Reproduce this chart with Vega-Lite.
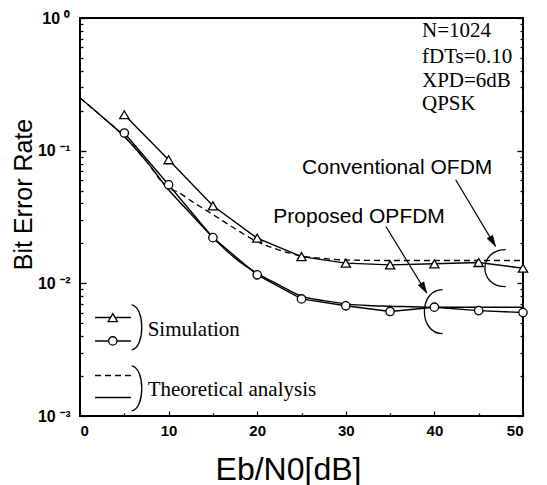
{
  "$schema": "https://vega.github.io/schema/vega-lite/v6.json",
  "width": 443,
  "height": 398,
  "autosize": {"type": "none"},
  "padding": {"left": 80, "top": 18, "right": 24, "bottom": 69},
  "background": "white",
  "config": {
    "view": {"stroke": "black", "strokeWidth": 2},
    "axis": {"grid": false, "domain": false, "tickColor": "black", "tickWidth": 1.3, "labelColor": "black", "titleColor": "black"}
  },
  "datasets": {
    "theory": [
      {"curve": "prop", "x": 0, "y": 0.25}, {"curve": "prop", "x": 2.5, "y": 0.18}, {"curve": "prop", "x": 5, "y": 0.128},
      {"curve": "prop", "x": 7.5, "y": 0.083}, {"curve": "prop", "x": 10, "y": 0.0507}, {"curve": "prop", "x": 12.5, "y": 0.0335},
      {"curve": "prop", "x": 15, "y": 0.0222}, {"curve": "prop", "x": 17.5, "y": 0.0155}, {"curve": "prop", "x": 20, "y": 0.0119},
      {"curve": "prop", "x": 22.5, "y": 0.0097}, {"curve": "prop", "x": 25, "y": 0.008}, {"curve": "prop", "x": 27.5, "y": 0.0074},
      {"curve": "prop", "x": 30, "y": 0.007}, {"curve": "prop", "x": 32.5, "y": 0.0068}, {"curve": "prop", "x": 35, "y": 0.00672},
      {"curve": "prop", "x": 40, "y": 0.0066}, {"curve": "prop", "x": 45, "y": 0.0066}, {"curve": "prop", "x": 50, "y": 0.0066},
      {"curve": "conv", "x": 0, "y": 0.25}, {"curve": "conv", "x": 2.5, "y": 0.18}, {"curve": "conv", "x": 5, "y": 0.128},
      {"curve": "conv", "x": 7.5, "y": 0.083}, {"curve": "conv", "x": 10, "y": 0.052}, {"curve": "conv", "x": 11, "y": 0.049},
      {"curve": "conv", "x": 12.5, "y": 0.042}, {"curve": "conv", "x": 15, "y": 0.033}, {"curve": "conv", "x": 17.5, "y": 0.0258},
      {"curve": "conv", "x": 20, "y": 0.0206}, {"curve": "conv", "x": 22.5, "y": 0.0178}, {"curve": "conv", "x": 25, "y": 0.0161},
      {"curve": "conv", "x": 27.5, "y": 0.0154}, {"curve": "conv", "x": 30, "y": 0.015}, {"curve": "conv", "x": 35, "y": 0.01486},
      {"curve": "conv", "x": 40, "y": 0.01486}, {"curve": "conv", "x": 45, "y": 0.01486}, {"curve": "conv", "x": 50, "y": 0.01486}
    ],
    "sim": [
      {"curve": "conv", "x": 5, "y": 0.1866}, {"curve": "conv", "x": 10, "y": 0.0854}, {"curve": "conv", "x": 15, "y": 0.0384},
      {"curve": "conv", "x": 20, "y": 0.0219}, {"curve": "conv", "x": 25, "y": 0.0159}, {"curve": "conv", "x": 30, "y": 0.0142},
      {"curve": "conv", "x": 35, "y": 0.01378}, {"curve": "conv", "x": 40, "y": 0.01403}, {"curve": "conv", "x": 45, "y": 0.01435},
      {"curve": "conv", "x": 50, "y": 0.013},
      {"curve": "prop", "x": 5, "y": 0.1358}, {"curve": "prop", "x": 10, "y": 0.0553}, {"curve": "prop", "x": 15, "y": 0.0221},
      {"curve": "prop", "x": 20, "y": 0.01159}, {"curve": "prop", "x": 25, "y": 0.00763}, {"curve": "prop", "x": 30, "y": 0.00677},
      {"curve": "prop", "x": 35, "y": 0.00613}, {"curve": "prop", "x": 40, "y": 0.00661}, {"curve": "prop", "x": 45, "y": 0.00623},
      {"curve": "prop", "x": 50, "y": 0.00602}
    ],
    "legend": [
      {"item": "tri", "x": 1.7, "x2": 5.75, "xm": 3.7, "y": 0.00552},
      {"item": "circ", "x": 1.7, "x2": 5.75, "xm": 3.7, "y": 0.00368},
      {"item": "dash", "x": 1.7, "x2": 5.75, "xm": 3.7, "y": 0.00202},
      {"item": "solid", "x": 1.7, "x2": 5.75, "xm": 3.7, "y": 0.001377}
    ],
    "brackets": [
      {"x": 6.34, "y": 0.00466},
      {"x": 6.34, "y": 0.001615}
    ],
    "arcs": [
      {"curve": "conv", "x": 46.8, "y": 0.013},
      {"curve": "prop", "x": 39.8, "y": 0.00612}
    ],
    "arrows": [
      {"curve": "conv", "x": 42.4, "y": 0.0603, "x2": 46.9, "y2": 0.019},
      {"curve": "prop", "x": 34.54, "y": 0.0267, "x2": 39.13, "y2": 0.00846}
    ],
    "serif": [
      {"label": "N=1024", "x": 38.6, "y": 0.714},
      {"label": "fDTs=0.10", "x": 38.6, "y": 0.458},
      {"label": "XPD=6dB", "x": 38.6, "y": 0.2997},
      {"label": "QPSK", "x": 38.6, "y": 0.201},
      {"label": "Simulation", "x": 7.64, "y": 0.00402},
      {"label": "Theoretical analysis", "x": 7.64, "y": 0.001422}
    ],
    "sans": [
      {"label": "Conventional OFDM", "x": 35.8, "y": 0.0666},
      {"label": "Proposed OPFDM", "x": 31.5, "y": 0.0284}
    ]
  },
  "resolve": {"axis": {"y": "independent"}},
  "layer": [
    {
      "data": {"name": "theory"},
      "transform": [{"filter": "datum.curve == 'prop'"}],
      "mark": {"type": "line", "color": "black", "strokeWidth": 1.4, "interpolate": "monotone"},
      "encoding": {
        "x": {"field": "x", "type": "quantitative", "scale": {"domain": [0, 50], "nice": false, "zero": false},
          "axis": {"values": [0, 5, 10, 15, 20, 25, 30, 35, 40, 45, 50],
            "labelExpr": "datum.value % 10 == 0 ? datum.label : ''",
            "tickSize": {"condition": {"test": "datum.value % 10 == 0", "value": -5}, "value": -3},
            "labelPadding": 12, "labelFont": "Liberation Sans", "labelFontWeight": "bold", "labelFontSize": 15,
            "labelOverlap": false,
            "title": "Eb/N0[dB]", "titleFont": "Liberation Sans", "titleFontWeight": "normal", "titleFontSize": 32,
            "titleX": 208, "titleY": 63, "titleAlign": "center", "titleBaseline": "alphabetic"}},
        "y": {"field": "y", "type": "quantitative", "scale": {"type": "log", "domain": [0.001, 1], "nice": false},
          "axis": {"orient": "left",
            "values": [0.001, 0.002, 0.003, 0.004, 0.005, 0.006, 0.007, 0.008, 0.009, 0.01, 0.02, 0.03, 0.04, 0.05, 0.06, 0.07, 0.08, 0.09, 0.1, 0.2, 0.3, 0.4, 0.5, 0.6, 0.7, 0.8, 0.9, 1],
            "labelExpr": "datum.value == 1 ? '10 ⁰' : datum.value == 0.1 ? '10 ⁻¹' : datum.value == 0.01 ? '10 ⁻²' : datum.value == 0.001 ? '10 ⁻³' : ''",
            "tickSize": {"condition": {"test": "indexof([1, 0.1, 0.01, 0.001], datum.value) >= 0", "value": -6}, "value": -3},
            "labelPadding": 16, "labelFont": "Liberation Sans", "labelFontWeight": "bold", "labelFontSize": 16,
            "labelOverlap": false, "labelBaseline": "middle",
            "title": "Bit Error Rate", "titleFont": "Liberation Sans", "titleFontWeight": "normal", "titleFontSize": 25,
            "titleX": -57, "titleY": 176, "titleAngle": 270, "titleAlign": "center", "titleBaseline": "middle"}}
      }
    },
    {
      "data": {"name": "theory"},
      "transform": [{"filter": "datum.curve == 'conv'"}],
      "mark": {"type": "line", "color": "black", "strokeWidth": 1.3, "strokeDash": [6, 4], "interpolate": "monotone"},
      "encoding": {
        "x": {"field": "x", "type": "quantitative"},
        "y": {"field": "y", "type": "quantitative", "scale": {"type": "log", "domain": [0.001, 1], "nice": false},
          "axis": {"orient": "right",
            "values": [0.001, 0.002, 0.003, 0.004, 0.005, 0.006, 0.007, 0.008, 0.009, 0.01, 0.02, 0.03, 0.04, 0.05, 0.06, 0.07, 0.08, 0.09, 0.1, 0.2, 0.3, 0.4, 0.5, 0.6, 0.7, 0.8, 0.9, 1],
            "labels": false, "title": null,
            "tickSize": {"condition": {"test": "indexof([1, 0.1, 0.01, 0.001], datum.value) >= 0", "value": -6}, "value": -3}}}
      }
    },
    {
      "data": {"name": "sim"},
      "mark": {"type": "line", "color": "black", "strokeWidth": 1.4},
      "encoding": {
        "x": {"field": "x", "type": "quantitative"},
        "y": {"field": "y", "type": "quantitative", "scale": {"type": "log", "domain": [0.001, 1], "nice": false}, "axis": null},
        "detail": {"field": "curve"}
      }
    },
    {
      "data": {"name": "sim"},
      "transform": [{"filter": "datum.curve == 'conv'"}],
      "mark": {"type": "point", "shape": "triangle-up", "size": 85, "filled": true, "fill": "white", "stroke": "black", "strokeWidth": 1.3, "opacity": 1},
      "encoding": {
        "x": {"field": "x", "type": "quantitative"},
        "y": {"field": "y", "type": "quantitative", "scale": {"type": "log", "domain": [0.001, 1], "nice": false}, "axis": null}
      }
    },
    {
      "data": {"name": "sim"},
      "transform": [{"filter": "datum.curve == 'prop'"}],
      "mark": {"type": "point", "shape": "circle", "size": 70, "filled": true, "fill": "white", "stroke": "black", "strokeWidth": 1.3, "opacity": 1},
      "encoding": {
        "x": {"field": "x", "type": "quantitative"},
        "y": {"field": "y", "type": "quantitative", "scale": {"type": "log", "domain": [0.001, 1], "nice": false}, "axis": null}
      }
    },
    {
      "data": {"name": "legend"},
      "transform": [{"filter": "datum.item != 'dash'"}],
      "mark": {"type": "rule", "color": "black", "strokeWidth": 1.4},
      "encoding": {
        "x": {"field": "x", "type": "quantitative"},
        "x2": {"field": "x2"},
        "y": {"field": "y", "type": "quantitative", "scale": {"type": "log", "domain": [0.001, 1], "nice": false}, "axis": null}
      }
    },
    {
      "data": {"name": "legend"},
      "transform": [{"filter": "datum.item == 'dash'"}],
      "mark": {"type": "rule", "color": "black", "strokeWidth": 1.3, "strokeDash": [6, 4]},
      "encoding": {
        "x": {"field": "x", "type": "quantitative"},
        "x2": {"field": "x2"},
        "y": {"field": "y", "type": "quantitative", "scale": {"type": "log", "domain": [0.001, 1], "nice": false}, "axis": null}
      }
    },
    {
      "data": {"name": "legend"},
      "transform": [{"filter": "datum.item == 'tri'"}],
      "mark": {"type": "point", "shape": "triangle-up", "size": 85, "filled": true, "fill": "white", "stroke": "black", "strokeWidth": 1.3, "opacity": 1},
      "encoding": {
        "x": {"field": "xm", "type": "quantitative"},
        "y": {"field": "y", "type": "quantitative", "scale": {"type": "log", "domain": [0.001, 1], "nice": false}, "axis": null}
      }
    },
    {
      "data": {"name": "legend"},
      "transform": [{"filter": "datum.item == 'circ'"}],
      "mark": {"type": "point", "shape": "circle", "size": 70, "filled": true, "fill": "white", "stroke": "black", "strokeWidth": 1.3, "opacity": 1},
      "encoding": {
        "x": {"field": "xm", "type": "quantitative"},
        "y": {"field": "y", "type": "quantitative", "scale": {"type": "log", "domain": [0.001, 1], "nice": false}, "axis": null}
      }
    },
    {
      "data": {"name": "brackets"},
      "mark": {"type": "point", "shape": "M -0.2 -1 C 0.4 -0.9 0.4 0.9 -0.2 1", "size": 2025, "filled": false, "stroke": "black", "strokeWidth": 1.3, "opacity": 1},
      "encoding": {
        "x": {"field": "x", "type": "quantitative"},
        "y": {"field": "y", "type": "quantitative", "scale": {"type": "log", "domain": [0.001, 1], "nice": false}, "axis": null}
      }
    },
    {
      "data": {"name": "arcs"},
      "transform": [{"filter": "datum.curve == 'conv'"}],
      "mark": {"type": "point", "shape": "M 0.6 -1 C -0.9 -1 -0.9 1 0.6 1", "size": 1369, "filled": false, "stroke": "black", "strokeWidth": 1.3, "opacity": 1},
      "encoding": {
        "x": {"field": "x", "type": "quantitative"},
        "y": {"field": "y", "type": "quantitative", "scale": {"type": "log", "domain": [0.001, 1], "nice": false}, "axis": null}
      }
    },
    {
      "data": {"name": "arcs"},
      "transform": [{"filter": "datum.curve == 'prop'"}],
      "mark": {"type": "point", "shape": "M 0.45 -1 C -0.65 -1 -0.65 1 0.45 1", "size": 1936, "filled": false, "stroke": "black", "strokeWidth": 1.3, "opacity": 1},
      "encoding": {
        "x": {"field": "x", "type": "quantitative"},
        "y": {"field": "y", "type": "quantitative", "scale": {"type": "log", "domain": [0.001, 1], "nice": false}, "axis": null}
      }
    },
    {
      "data": {"name": "arrows"},
      "mark": {"type": "rule", "color": "black", "strokeWidth": 1.2},
      "encoding": {
        "x": {"field": "x", "type": "quantitative"},
        "x2": {"field": "x2"},
        "y": {"field": "y", "type": "quantitative", "scale": {"type": "log", "domain": [0.001, 1], "nice": false}, "axis": null},
        "y2": {"field": "y2"}
      }
    },
    {
      "data": {"name": "arrows"},
      "mark": {"type": "point", "shape": "M 0 0 L -0.3 1 L 0.3 1 Z", "size": 484, "angle": 149, "filled": true, "fill": "black", "stroke": "black", "strokeWidth": 0.5, "opacity": 1},
      "encoding": {
        "x": {"field": "x2", "type": "quantitative"},
        "y": {"field": "y2", "type": "quantitative", "scale": {"type": "log", "domain": [0.001, 1], "nice": false}, "axis": null}
      }
    },
    {
      "data": {"name": "serif"},
      "mark": {"type": "text", "font": "Liberation Serif", "fontSize": 21, "align": "left", "baseline": "alphabetic", "color": "black"},
      "encoding": {
        "x": {"field": "x", "type": "quantitative"},
        "y": {"field": "y", "type": "quantitative", "scale": {"type": "log", "domain": [0.001, 1], "nice": false}, "axis": null},
        "text": {"field": "label"}
      }
    },
    {
      "data": {"name": "sans"},
      "mark": {"type": "text", "font": "Liberation Sans", "fontSize": 21, "align": "center", "baseline": "alphabetic", "color": "black"},
      "encoding": {
        "x": {"field": "x", "type": "quantitative"},
        "y": {"field": "y", "type": "quantitative", "scale": {"type": "log", "domain": [0.001, 1], "nice": false}, "axis": null},
        "text": {"field": "label"}
      }
    }
  ]
}
